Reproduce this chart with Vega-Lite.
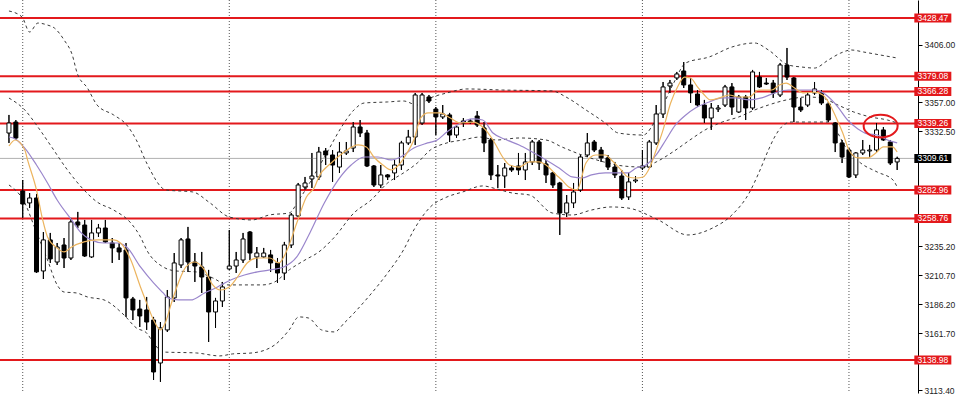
{
"$schema": "https://vega.github.io/schema/vega-lite/v6.json",
"width": 918,
"height": 393,
"autosize": {"type": "none"},
"padding": {"left": 0, "top": 0, "right": 42, "bottom": 2},
"background": "white",
"config": {"view": {"stroke": null}},
"datasets": {
"candles": [
{"i":0,"o":3331.1,"h":3346.4,"l":3322.7,"c":3339.6},
{"i":1,"o":3340.4,"h":3342.1,"l":3325.2,"c":3326.9},
{"i":2,"o":3282.0,"h":3291.3,"l":3259.2,"c":3271.0},
{"i":3,"o":3271.9,"h":3280.3,"l":3267.6,"c":3276.1},
{"i":4,"o":3276.1,"h":3279.5,"l":3212.6,"c":3213.5},
{"i":5,"o":3214.3,"h":3247.3,"l":3207.5,"c":3240.6},
{"i":6,"o":3240.6,"h":3246.5,"l":3221.1,"c":3224.5},
{"i":7,"o":3221.9,"h":3238.0,"l":3219.4,"c":3234.6},
{"i":8,"o":3236.3,"h":3242.2,"l":3216.8,"c":3225.3},
{"i":9,"o":3225.3,"h":3259.2,"l":3223.6,"c":3255.8},
{"i":10,"o":3255.8,"h":3264.3,"l":3250.7,"c":3253.2},
{"i":11,"o":3253.2,"h":3257.5,"l":3226.2,"c":3227.0},
{"i":12,"o":3226.2,"h":3257.5,"l":3225.3,"c":3246.5},
{"i":13,"o":3246.5,"h":3254.1,"l":3243.1,"c":3250.7},
{"i":14,"o":3250.7,"h":3257.5,"l":3238.0,"c":3238.9},
{"i":15,"o":3238.0,"h":3242.2,"l":3221.1,"c":3233.8},
{"i":16,"o":3233.8,"h":3238.0,"l":3223.6,"c":3230.4},
{"i":17,"o":3232.1,"h":3238.0,"l":3175.4,"c":3191.5},
{"i":18,"o":3190.6,"h":3192.3,"l":3172.8,"c":3181.3},
{"i":19,"o":3182.1,"h":3189.8,"l":3166.9,"c":3176.2},
{"i":20,"o":3181.3,"h":3192.3,"l":3164.4,"c":3171.1},
{"i":21,"o":3172.8,"h":3175.4,"l":3122.0,"c":3128.8},
{"i":22,"o":3136.4,"h":3171.1,"l":3120.4,"c":3166.1},
{"i":23,"o":3164.4,"h":3198.2,"l":3162.7,"c":3192.3},
{"i":24,"o":3191.5,"h":3229.5,"l":3188.1,"c":3221.1},
{"i":25,"o":3219.4,"h":3242.2,"l":3216.8,"c":3240.6},
{"i":26,"o":3241.4,"h":3251.6,"l":3213.5,"c":3221.9},
{"i":27,"o":3221.9,"h":3229.5,"l":3205.0,"c":3218.5},
{"i":28,"o":3217.7,"h":3230.4,"l":3195.7,"c":3209.2},
{"i":29,"o":3209.2,"h":3215.2,"l":3154.2,"c":3179.6},
{"i":30,"o":3179.6,"h":3191.5,"l":3166.1,"c":3188.9},
{"i":31,"o":3188.9,"h":3205.0,"l":3183.8,"c":3200.8},
{"i":32,"o":3216.0,"h":3249.0,"l":3215.2,"c":3218.5},
{"i":33,"o":3218.5,"h":3230.4,"l":3212.6,"c":3223.6},
{"i":34,"o":3223.6,"h":3246.5,"l":3221.1,"c":3241.4},
{"i":35,"o":3247.3,"h":3248.1,"l":3223.6,"c":3229.5},
{"i":36,"o":3226.2,"h":3234.6,"l":3216.8,"c":3229.5},
{"i":37,"o":3226.2,"h":3233.8,"l":3225.3,"c":3229.5},
{"i":38,"o":3227.9,"h":3232.1,"l":3213.5,"c":3221.1},
{"i":39,"o":3221.1,"h":3225.3,"l":3204.2,"c":3212.6},
{"i":40,"o":3212.6,"h":3238.9,"l":3206.7,"c":3236.3},
{"i":41,"o":3236.3,"h":3263.4,"l":3233.8,"c":3261.7},
{"i":42,"o":3260.9,"h":3288.8,"l":3260.0,"c":3287.1},
{"i":43,"o":3285.4,"h":3293.9,"l":3282.9,"c":3288.8},
{"i":44,"o":3292.2,"h":3314.2,"l":3284.6,"c":3294.7},
{"i":45,"o":3293.9,"h":3319.3,"l":3291.3,"c":3315.0},
{"i":46,"o":3315.9,"h":3318.4,"l":3304.0,"c":3312.5},
{"i":47,"o":3312.5,"h":3316.7,"l":3289.7,"c":3304.0},
{"i":48,"o":3302.3,"h":3323.5,"l":3297.3,"c":3315.0},
{"i":49,"o":3314.2,"h":3323.5,"l":3312.5,"c":3315.9},
{"i":50,"o":3318.4,"h":3340.4,"l":3315.0,"c":3336.2},
{"i":51,"o":3336.2,"h":3342.1,"l":3327.7,"c":3331.1},
{"i":52,"o":3331.1,"h":3333.7,"l":3302.3,"c":3303.2},
{"i":53,"o":3303.2,"h":3304.0,"l":3285.4,"c":3287.1},
{"i":54,"o":3287.1,"h":3304.0,"l":3284.6,"c":3295.6},
{"i":55,"o":3295.6,"h":3296.4,"l":3291.3,"c":3293.9},
{"i":56,"o":3297.3,"h":3308.3,"l":3291.3,"c":3304.0},
{"i":57,"o":3304.0,"h":3324.4,"l":3299.8,"c":3322.7},
{"i":58,"o":3322.7,"h":3333.7,"l":3321.0,"c":3327.7},
{"i":59,"o":3327.7,"h":3365.0,"l":3321.0,"c":3363.3},
{"i":60,"o":3339.6,"h":3365.0,"l":3337.9,"c":3363.3},
{"i":61,"o":3361.6,"h":3363.3,"l":3356.5,"c":3358.2},
{"i":62,"o":3351.4,"h":3353.1,"l":3329.4,"c":3344.7},
{"i":63,"o":3344.7,"h":3354.8,"l":3343.0,"c":3347.2},
{"i":64,"o":3346.4,"h":3348.1,"l":3323.5,"c":3329.4},
{"i":65,"o":3329.4,"h":3337.9,"l":3326.9,"c":3336.2},
{"i":66,"o":3341.3,"h":3343.8,"l":3336.2,"c":3339.6},
{"i":67,"o":3341.3,"h":3343.0,"l":3338.7,"c":3340.4},
{"i":68,"o":3345.5,"h":3349.7,"l":3336.2,"c":3337.9},
{"i":69,"o":3335.4,"h":3340.4,"l":3315.0,"c":3322.7},
{"i":70,"o":3325.2,"h":3326.9,"l":3291.3,"c":3295.6},
{"i":71,"o":3295.6,"h":3304.0,"l":3284.6,"c":3294.7},
{"i":72,"o":3294.7,"h":3305.7,"l":3284.6,"c":3301.5},
{"i":73,"o":3301.5,"h":3304.0,"l":3298.1,"c":3299.8},
{"i":74,"o":3303.2,"h":3314.2,"l":3295.6,"c":3299.8},
{"i":75,"o":3299.8,"h":3314.2,"l":3291.3,"c":3306.6},
{"i":76,"o":3306.6,"h":3325.2,"l":3304.0,"c":3323.5},
{"i":77,"o":3323.5,"h":3325.2,"l":3299.8,"c":3305.7},
{"i":78,"o":3304.9,"h":3308.3,"l":3288.8,"c":3295.6},
{"i":79,"o":3297.3,"h":3298.1,"l":3284.6,"c":3287.1},
{"i":80,"o":3288.8,"h":3289.7,"l":3244.8,"c":3263.4},
{"i":81,"o":3263.4,"h":3278.6,"l":3260.0,"c":3271.9},
{"i":82,"o":3271.9,"h":3288.8,"l":3267.6,"c":3281.2},
{"i":83,"o":3282.9,"h":3312.5,"l":3281.2,"c":3310.8},
{"i":84,"o":3312.5,"h":3331.1,"l":3310.8,"c":3322.7},
{"i":85,"o":3323.5,"h":3325.2,"l":3315.0,"c":3316.7},
{"i":86,"o":3316.7,"h":3319.3,"l":3306.6,"c":3310.0},
{"i":87,"o":3310.0,"h":3312.5,"l":3299.8,"c":3302.3},
{"i":88,"o":3302.3,"h":3306.6,"l":3293.0,"c":3295.6},
{"i":89,"o":3294.7,"h":3299.8,"l":3274.4,"c":3276.1},
{"i":90,"o":3277.0,"h":3297.3,"l":3274.4,"c":3289.7},
{"i":91,"o":3290.5,"h":3294.7,"l":3288.8,"c":3291.3},
{"i":92,"o":3301.5,"h":3316.7,"l":3299.8,"c":3303.2},
{"i":93,"o":3302.3,"h":3325.2,"l":3301.5,"c":3323.5},
{"i":94,"o":3322.7,"h":3354.8,"l":3321.0,"c":3347.2},
{"i":95,"o":3347.2,"h":3374.3,"l":3343.8,"c":3370.1},
{"i":96,"o":3370.9,"h":3376.0,"l":3365.0,"c":3373.4},
{"i":97,"o":3377.7,"h":3382.8,"l":3376.0,"c":3381.1},
{"i":98,"o":3383.6,"h":3391.2,"l":3369.2,"c":3371.8},
{"i":99,"o":3371.8,"h":3377.7,"l":3356.5,"c":3365.0},
{"i":100,"o":3364.1,"h":3367.5,"l":3353.1,"c":3354.8},
{"i":101,"o":3354.8,"h":3359.1,"l":3339.6,"c":3343.8},
{"i":102,"o":3343.8,"h":3356.5,"l":3333.7,"c":3352.3},
{"i":103,"o":3351.4,"h":3354.8,"l":3348.9,"c":3352.3},
{"i":104,"o":3354.8,"h":3371.8,"l":3353.1,"c":3370.1},
{"i":105,"o":3370.1,"h":3373.4,"l":3346.4,"c":3353.1},
{"i":106,"o":3348.9,"h":3363.3,"l":3348.1,"c":3361.6},
{"i":107,"o":3361.6,"h":3363.3,"l":3342.1,"c":3352.3},
{"i":108,"o":3352.3,"h":3384.5,"l":3350.6,"c":3382.8},
{"i":109,"o":3378.5,"h":3382.8,"l":3369.2,"c":3370.1},
{"i":110,"o":3373.4,"h":3377.7,"l":3371.8,"c":3372.6},
{"i":111,"o":3373.4,"h":3376.0,"l":3360.8,"c":3365.0},
{"i":112,"o":3363.3,"h":3390.4,"l":3361.6,"c":3388.7},
{"i":113,"o":3388.7,"h":3403.1,"l":3376.0,"c":3378.5},
{"i":114,"o":3377.7,"h":3378.5,"l":3340.4,"c":3353.1},
{"i":115,"o":3353.1,"h":3360.8,"l":3348.9,"c":3350.6},
{"i":116,"o":3354.8,"h":3365.8,"l":3353.1,"c":3363.3},
{"i":117,"o":3365.0,"h":3374.3,"l":3363.3,"c":3368.4},
{"i":118,"o":3365.0,"h":3367.5,"l":3354.8,"c":3356.5},
{"i":119,"o":3355.7,"h":3357.4,"l":3340.4,"c":3342.1},
{"i":120,"o":3339.6,"h":3340.4,"l":3315.0,"c":3322.7},
{"i":121,"o":3322.7,"h":3325.2,"l":3305.7,"c":3310.8},
{"i":122,"o":3316.7,"h":3318.4,"l":3293.0,"c":3293.9},
{"i":123,"o":3295.6,"h":3315.0,"l":3293.0,"c":3314.2},
{"i":124,"o":3314.2,"h":3325.2,"l":3312.5,"c":3316.7},
{"i":125,"o":3315.9,"h":3321.0,"l":3310.8,"c":3316.7},
{"i":126,"o":3316.7,"h":3339.6,"l":3315.0,"c":3333.7},
{"i":127,"o":3333.7,"h":3336.2,"l":3324.4,"c":3325.2},
{"i":128,"o":3323.5,"h":3325.2,"l":3304.0,"c":3305.7},
{"i":129,"o":3306.6,"h":3311.0,"l":3299.8,"c":3309.6}
],
"lines": [
{"s":"u","i":0,"p":3434.4},{"s":"u","i":1.9,"p":3429.3},{"s":"u","i":3.0,"p":3416.6},{"s":"u","i":4.2,"p":3424.2},{"s":"u","i":5.6,"p":3422.5},{"s":"u","i":6.6,"p":3420.0},{"s":"u","i":8.0,"p":3409.9},{"s":"u","i":9.2,"p":3397.1},{"s":"u","i":9.9,"p":3381.9},{"s":"u","i":11.4,"p":3369.2},{"s":"u","i":12.8,"p":3354.8},{"s":"u","i":15.2,"p":3346.4},{"s":"u","i":17.1,"p":3337.9},{"s":"u","i":18.5,"p":3325.2},{"s":"u","i":20.0,"p":3305.7},{"s":"u","i":22.8,"p":3282.9},{"s":"u","i":26.7,"p":3281.2},{"s":"u","i":29.2,"p":3271.9},{"s":"u","i":32.0,"p":3260.0},{"s":"u","i":35.3,"p":3257.5},{"s":"u","i":37.8,"p":3261.7},{"s":"u","i":40.7,"p":3263.4},{"s":"u","i":42.1,"p":3274.4},{"s":"u","i":43.5,"p":3287.1},{"s":"u","i":45.0,"p":3302.3},{"s":"u","i":46.4,"p":3316.7},{"s":"u","i":48.3,"p":3336.2},{"s":"u","i":50.1,"p":3350.6},{"s":"u","i":51.6,"p":3356.5},{"s":"u","i":55.0,"p":3357.4},{"s":"u","i":57.3,"p":3358.2},{"s":"u","i":59.3,"p":3354.8},{"s":"u","i":61.2,"p":3360.8},{"s":"u","i":63.6,"p":3365.0},{"s":"u","i":66.5,"p":3368.4},{"s":"u","i":71.7,"p":3367.5},{"s":"u","i":78.9,"p":3366.7},{"s":"u","i":80.9,"p":3361.6},{"s":"u","i":83.8,"p":3350.6},{"s":"u","i":86.6,"p":3339.6},{"s":"u","i":88.5,"p":3331.1},{"s":"u","i":92.1,"p":3329.4},{"s":"u","i":94.3,"p":3346.4},{"s":"u","i":96.4,"p":3371.8},{"s":"u","i":98.3,"p":3390.4},{"s":"u","i":101.7,"p":3395.5},{"s":"u","i":105.0,"p":3403.9},{"s":"u","i":108.3,"p":3407.3},{"s":"u","i":110.3,"p":3401.4},{"s":"u","i":113.2,"p":3388.7},{"s":"u","i":115.1,"p":3387.0},{"s":"u","i":117.0,"p":3386.1},{"s":"u","i":119.0,"p":3392.9},{"s":"u","i":120.8,"p":3398.8},{"s":"u","i":122.3,"p":3401.4},{"s":"u","i":124.1,"p":3399.7},{"s":"u","i":126.6,"p":3397.1},{"s":"u","i":129.0,"p":3394.6},
{"s":"m","i":0,"p":3360.7},{"s":"m","i":2.3,"p":3350.6},{"s":"m","i":4.2,"p":3336.2},{"s":"m","i":6.2,"p":3319.3},{"s":"m","i":8.5,"p":3299.8},{"s":"m","i":10.5,"p":3285.4},{"s":"m","i":12.8,"p":3272.7},{"s":"m","i":15.2,"p":3265.9},{"s":"m","i":17.7,"p":3254.9},{"s":"m","i":19.1,"p":3243.1},{"s":"m","i":20.0,"p":3232.1},{"s":"m","i":22.4,"p":3217.7},{"s":"m","i":24.3,"p":3214.3},{"s":"m","i":27.2,"p":3213.5},{"s":"m","i":29.6,"p":3208.4},{"s":"m","i":31.8,"p":3202.5},{"s":"m","i":33.9,"p":3202.5},{"s":"m","i":36.8,"p":3202.5},{"s":"m","i":38.6,"p":3205.0},{"s":"m","i":40.7,"p":3215.2},{"s":"m","i":43.0,"p":3223.6},{"s":"m","i":45.0,"p":3230.4},{"s":"m","i":47.3,"p":3243.1},{"s":"m","i":50.1,"p":3263.4},{"s":"m","i":52.6,"p":3274.4},{"s":"m","i":55.0,"p":3288.8},{"s":"m","i":57.3,"p":3297.3},{"s":"m","i":59.3,"p":3305.7},{"s":"m","i":61.2,"p":3316.7},{"s":"m","i":63.6,"p":3322.7},{"s":"m","i":65.9,"p":3325.2},{"s":"m","i":68.4,"p":3327.7},{"s":"m","i":70.8,"p":3325.2},{"s":"m","i":74.1,"p":3326.9},{"s":"m","i":78.0,"p":3325.2},{"s":"m","i":80.3,"p":3319.3},{"s":"m","i":83.2,"p":3312.5},{"s":"m","i":86.4,"p":3306.6},{"s":"m","i":89.2,"p":3303.2},{"s":"m","i":92.1,"p":3302.3},{"s":"m","i":94.0,"p":3306.6},{"s":"m","i":96.4,"p":3315.0},{"s":"m","i":98.9,"p":3325.2},{"s":"m","i":101.1,"p":3333.7},{"s":"m","i":103.6,"p":3340.4},{"s":"m","i":106.0,"p":3344.7},{"s":"m","i":108.3,"p":3350.6},{"s":"m","i":110.3,"p":3354.8},{"s":"m","i":112.9,"p":3359.1},{"s":"m","i":115.8,"p":3361.6},{"s":"m","i":118.0,"p":3360.8},{"s":"m","i":120.4,"p":3354.8},{"s":"m","i":122.7,"p":3348.9},{"s":"m","i":125.1,"p":3344.7},{"s":"m","i":127.6,"p":3342.1},{"s":"m","i":129.0,"p":3339.6},
{"s":"d","i":0,"p":3287.1},{"s":"d","i":2.3,"p":3271.9},{"s":"d","i":3.7,"p":3251.6},{"s":"d","i":5.6,"p":3223.6},{"s":"d","i":7.0,"p":3202.5},{"s":"d","i":8.0,"p":3196.5},{"s":"d","i":9.8,"p":3195.7},{"s":"d","i":11.4,"p":3192.3},{"s":"d","i":13.8,"p":3189.8},{"s":"d","i":16.7,"p":3177.1},{"s":"d","i":18.5,"p":3166.1},{"s":"d","i":20.0,"p":3161.8},{"s":"d","i":21.0,"p":3153.4},{"s":"d","i":22.4,"p":3145.7},{"s":"d","i":27.2,"p":3144.9},{"s":"d","i":30.6,"p":3142.4},{"s":"d","i":32.5,"p":3144.1},{"s":"d","i":35.3,"p":3144.9},{"s":"d","i":38.6,"p":3151.7},{"s":"d","i":40.7,"p":3164.4},{"s":"d","i":42.1,"p":3175.4},{"s":"d","i":43.5,"p":3174.5},{"s":"d","i":45.4,"p":3164.4},{"s":"d","i":47.3,"p":3162.7},{"s":"d","i":48.7,"p":3170.3},{"s":"d","i":52.2,"p":3192.3},{"s":"d","i":55.0,"p":3212.6},{"s":"d","i":57.3,"p":3232.1},{"s":"d","i":58.8,"p":3249.0},{"s":"d","i":61.2,"p":3268.5},{"s":"d","i":63.6,"p":3276.9},{"s":"d","i":65.9,"p":3281.2},{"s":"d","i":68.8,"p":3286.3},{"s":"d","i":70.8,"p":3283.8},{"s":"d","i":73.1,"p":3280.3},{"s":"d","i":75.6,"p":3278.6},{"s":"d","i":78.9,"p":3263.4},{"s":"d","i":81.8,"p":3261.7},{"s":"d","i":84.6,"p":3265.9},{"s":"d","i":87.5,"p":3268.5},{"s":"d","i":89.9,"p":3267.6},{"s":"d","i":94.3,"p":3257.5},{"s":"d","i":98.6,"p":3244.8},{"s":"d","i":102.2,"p":3250.7},{"s":"d","i":105.0,"p":3261.7},{"s":"d","i":107.5,"p":3280.3},{"s":"d","i":108.9,"p":3297.3},{"s":"d","i":110.3,"p":3316.7},{"s":"d","i":111.2,"p":3327.7},{"s":"d","i":112.2,"p":3336.2},{"s":"d","i":113.6,"p":3340.4},{"s":"d","i":116.1,"p":3340.4},{"s":"d","i":119.0,"p":3340.4},{"s":"d","i":121.8,"p":3316.7},{"s":"d","i":123.7,"p":3305.7},{"s":"d","i":126.1,"p":3298.1},{"s":"d","i":128.4,"p":3291.3},{"s":"d","i":129.0,"p":3285.4},
{"s":"f","i":0,"p":3320.1},{"s":"f","i":0.9,"p":3325.2},{"s":"f","i":2.3,"p":3316.7},{"s":"f","i":2.7,"p":3308.3},{"s":"f","i":4.0,"p":3282.9},{"s":"f","i":4.9,"p":3257.5},{"s":"f","i":5.6,"p":3243.1},{"s":"f","i":7.0,"p":3233.8},{"s":"f","i":8.0,"p":3230.4},{"s":"f","i":9.1,"p":3234.6},{"s":"f","i":10.9,"p":3238.9},{"s":"f","i":12.8,"p":3240.6},{"s":"f","i":15.2,"p":3240.6},{"s":"f","i":16.2,"p":3238.0},{"s":"f","i":17.7,"p":3223.6},{"s":"f","i":19.1,"p":3200.8},{"s":"f","i":20.0,"p":3187.2},{"s":"f","i":21.0,"p":3172.8},{"s":"f","i":22.0,"p":3164.4},{"s":"f","i":22.7,"p":3170.3},{"s":"f","i":23.6,"p":3187.2},{"s":"f","i":24.6,"p":3204.2},{"s":"f","i":25.7,"p":3217.7},{"s":"f","i":27.0,"p":3221.9},{"s":"f","i":28.4,"p":3215.2},{"s":"f","i":29.6,"p":3202.5},{"s":"f","i":30.7,"p":3198.2},{"s":"f","i":32.0,"p":3200.8},{"s":"f","i":33.2,"p":3209.2},{"s":"f","i":34.6,"p":3221.1},{"s":"f","i":36.1,"p":3225.3},{"s":"f","i":37.9,"p":3225.3},{"s":"f","i":39.2,"p":3221.1},{"s":"f","i":40.4,"p":3232.1},{"s":"f","i":41.8,"p":3254.9},{"s":"f","i":43.2,"p":3276.9},{"s":"f","i":44.4,"p":3285.4},{"s":"f","i":45.0,"p":3293.9},{"s":"f","i":46.8,"p":3305.7},{"s":"f","i":48.7,"p":3315.0},{"s":"f","i":50.7,"p":3321.0},{"s":"f","i":51.9,"p":3319.3},{"s":"f","i":53.0,"p":3310.8},{"s":"f","i":54.3,"p":3304.0},{"s":"f","i":55.5,"p":3299.8},{"s":"f","i":56.6,"p":3304.0},{"s":"f","i":57.9,"p":3315.0},{"s":"f","i":58.8,"p":3325.2},{"s":"f","i":59.8,"p":3343.8},{"s":"f","i":60.9,"p":3348.1},{"s":"f","i":62.6,"p":3348.1},{"s":"f","i":64.1,"p":3343.8},{"s":"f","i":65.5,"p":3339.6},{"s":"f","i":67.4,"p":3340.4},{"s":"f","i":68.8,"p":3336.2},{"s":"f","i":70.3,"p":3325.2},{"s":"f","i":71.7,"p":3310.8},{"s":"f","i":72.7,"p":3304.0},{"s":"f","i":74.1,"p":3302.3},{"s":"f","i":75.6,"p":3306.6},{"s":"f","i":77.0,"p":3306.6},{"s":"f","i":78.0,"p":3304.0},{"s":"f","i":79.5,"p":3295.6},{"s":"f","i":80.3,"p":3291.3},{"s":"f","i":81.3,"p":3285.4},{"s":"f","i":82.5,"p":3282.9},{"s":"f","i":83.8,"p":3305.7},{"s":"f","i":85.2,"p":3312.5},{"s":"f","i":86.6,"p":3312.5},{"s":"f","i":87.5,"p":3308.3},{"s":"f","i":88.9,"p":3299.8},{"s":"f","i":89.9,"p":3293.9},{"s":"f","i":91.1,"p":3293.0},{"s":"f","i":92.1,"p":3293.9},{"s":"f","i":93.1,"p":3302.3},{"s":"f","i":94.0,"p":3316.7},{"s":"f","i":95.0,"p":3333.7},{"s":"f","i":96.1,"p":3356.5},{"s":"f","i":97.1,"p":3370.1},{"s":"f","i":98.1,"p":3378.5},{"s":"f","i":99.0,"p":3377.7},{"s":"f","i":100.0,"p":3370.1},{"s":"f","i":101.0,"p":3363.3},{"s":"f","i":101.9,"p":3359.1},{"s":"f","i":103.2,"p":3360.8},{"s":"f","i":104.6,"p":3363.3},{"s":"f","i":106.0,"p":3361.6},{"s":"f","i":107.5,"p":3361.6},{"s":"f","i":108.9,"p":3367.5},{"s":"f","i":110.8,"p":3367.5},{"s":"f","i":111.9,"p":3371.8},{"s":"f","i":112.9,"p":3373.4},{"s":"f","i":114.1,"p":3369.2},{"s":"f","i":115.5,"p":3365.0},{"s":"f","i":117.0,"p":3365.8},{"s":"f","i":118.2,"p":3363.3},{"s":"f","i":119.1,"p":3356.5},{"s":"f","i":120.1,"p":3344.7},{"s":"f","i":121.1,"p":3331.1},{"s":"f","i":122.0,"p":3316.7},{"s":"f","i":123.3,"p":3310.0},{"s":"f","i":124.7,"p":3310.0},{"s":"f","i":125.9,"p":3314.2},{"s":"f","i":127.0,"p":3319.3},{"s":"f","i":128.3,"p":3319.3},{"s":"f","i":129.0,"p":3315.0},
{"s":"w","i":0,"p":3327.7},{"s":"w","i":0.9,"p":3326.1},{"s":"w","i":2.3,"p":3318.4},{"s":"w","i":4.0,"p":3304.0},{"s":"w","i":5.6,"p":3288.8},{"s":"w","i":7.0,"p":3274.4},{"s":"w","i":9.1,"p":3257.5},{"s":"w","i":10.5,"p":3246.5},{"s":"w","i":11.9,"p":3240.6},{"s":"w","i":13.8,"p":3238.0},{"s":"w","i":15.7,"p":3238.0},{"s":"w","i":17.1,"p":3234.6},{"s":"w","i":19.1,"p":3217.7},{"s":"w","i":21.0,"p":3204.2},{"s":"w","i":22.4,"p":3195.7},{"s":"w","i":23.1,"p":3191.5},{"s":"w","i":24.6,"p":3189.8},{"s":"w","i":26.4,"p":3189.8},{"s":"w","i":28.4,"p":3195.7},{"s":"w","i":30.3,"p":3200.8},{"s":"w","i":32.2,"p":3206.7},{"s":"w","i":34.2,"p":3210.9},{"s":"w","i":36.1,"p":3213.5},{"s":"w","i":37.9,"p":3215.2},{"s":"w","i":39.9,"p":3217.7},{"s":"w","i":41.8,"p":3226.2},{"s":"w","i":43.7,"p":3246.5},{"s":"w","i":45.8,"p":3271.9},{"s":"w","i":47.8,"p":3291.3},{"s":"w","i":49.7,"p":3304.0},{"s":"w","i":51.6,"p":3310.8},{"s":"w","i":53.6,"p":3310.8},{"s":"w","i":55.5,"p":3308.3},{"s":"w","i":56.9,"p":3310.8},{"s":"w","i":58.8,"p":3318.4},{"s":"w","i":60.8,"p":3322.7},{"s":"w","i":62.2,"p":3325.2},{"s":"w","i":63.6,"p":3332.0},{"s":"w","i":65.1,"p":3337.9},{"s":"w","i":66.5,"p":3342.1},{"s":"w","i":67.4,"p":3343.0},{"s":"w","i":68.8,"p":3342.1},{"s":"w","i":70.3,"p":3331.1},{"s":"w","i":72.3,"p":3325.2},{"s":"w","i":74.1,"p":3321.0},{"s":"w","i":76.0,"p":3315.0},{"s":"w","i":78.0,"p":3308.3},{"s":"w","i":79.9,"p":3301.5},{"s":"w","i":81.8,"p":3293.9},{"s":"w","i":83.2,"p":3293.0},{"s":"w","i":84.6,"p":3295.6},{"s":"w","i":86.6,"p":3297.3},{"s":"w","i":88.5,"p":3297.3},{"s":"w","i":89.9,"p":3297.3},{"s":"w","i":91.1,"p":3301.5},{"s":"w","i":92.5,"p":3304.0},{"s":"w","i":94.0,"p":3312.5},{"s":"w","i":95.4,"p":3325.2},{"s":"w","i":96.8,"p":3337.9},{"s":"w","i":98.3,"p":3346.4},{"s":"w","i":99.7,"p":3352.3},{"s":"w","i":101.7,"p":3357.4},{"s":"w","i":103.6,"p":3360.8},{"s":"w","i":105.5,"p":3360.8},{"s":"w","i":107.5,"p":3359.1},{"s":"w","i":109.3,"p":3360.8},{"s":"w","i":111.2,"p":3365.0},{"s":"w","i":113.2,"p":3367.5},{"s":"w","i":115.1,"p":3367.5},{"s":"w","i":117.0,"p":3367.5},{"s":"w","i":118.7,"p":3363.3},{"s":"w","i":120.4,"p":3353.1},{"s":"w","i":121.8,"p":3342.1},{"s":"w","i":123.3,"p":3334.6},{"s":"w","i":124.7,"p":3330.4},{"s":"w","i":126.1,"p":3329.4},{"s":"w","i":127.6,"p":3325.2},{"s":"w","i":129.0,"p":3322.7}
],
"levels": [{"p":3428.47},{"p":3379.08},{"p":3366.28},{"p":3339.26},{"p":3282.96},{"p":3258.76},{"p":3138.98}],
"last": [{"p":3309.61}],
"grid": [{"i":2},{"i":32},{"i":62},{"i":92},{"i":122}],
"mark": [{"i":126.6,"p":3337.0}]
},
"layer": [
{
"data": {"name": "grid"},
"mark": {"type": "rule", "color": "#555555", "strokeWidth": 1, "strokeDash": [1, 2]},
"encoding": {
"x": {"field": "i", "type": "quantitative", "scale": {"domain": [-0.575, 131.3], "nice": false, "zero": false}, "axis": null}
}
},
{
"data": {"name": "candles"},
"mark": {"type": "rule", "color": "#000000", "strokeWidth": 1},
"encoding": {
"x": {"field": "i", "type": "quantitative", "scale": {"domain": [-0.575, 131.3], "nice": false, "zero": false}, "axis": null},
"y": {"field": "l", "type": "quantitative", "scale": {"domain": [3111.0, 3443.71], "nice": false, "zero": false},
 "axis": {"orient": "right", "title": null, "grid": false, "values": [3406, 3357, 3332.5, 3235.2, 3210.7, 3186.2, 3161.7, 3113.4], "format": ".2f", "domainColor": "#000000", "tickColor": "#000000", "tickSize": 4, "labelFont": "Liberation Sans", "labelFontSize": 8.5, "labelColor": "#222222", "labelPadding": 2, "labelFlush": false, "labelOverlap": false, "labelBound": false}},
"y2": {"field": "h"}
}
},
{
"data": {"name": "last"},
"mark": {"type": "rule", "color": "#b0b0b0", "strokeWidth": 1},
"encoding": {
"y": {"field": "p", "type": "quantitative"}
}
},
{
"data": {"name": "levels"},
"mark": {"type": "rule", "color": "#e3191c", "strokeWidth": 2},
"encoding": {
"y": {"field": "p", "type": "quantitative"}
}
},
{
"data": {"name": "lines"},
"transform": [{"filter": "datum.s == 'u' || datum.s == 'm' || datum.s == 'd'"}],
"mark": {"type": "line", "color": "#3a3a3a", "strokeWidth": 1, "strokeDash": [3, 3], "interpolate": "monotone"},
"encoding": {
"x": {"field": "i", "type": "quantitative"},
"y": {"field": "p", "type": "quantitative"},
"detail": {"field": "s"},
"order": {"field": "i", "type": "quantitative"}
}
},
{
"data": {"name": "candles"},
"mark": {"type": "rule", "color": "#000000", "strokeWidth": 1},
"encoding": {
"x": {"field": "i", "type": "quantitative"},
"y": {"field": "l", "type": "quantitative"},
"y2": {"field": "h"}
}
},
{
"data": {"name": "candles"},
"mark": {"type": "bar", "size": 4, "stroke": "#000000", "strokeWidth": 1},
"encoding": {
"x": {"field": "i", "type": "quantitative"},
"y": {"field": "o", "type": "quantitative"},
"y2": {"field": "c"},
"fill": {"condition": {"test": "datum.c >= datum.o", "value": "#ffffff"}, "value": "#000000"}
}
},
{
"data": {"name": "lines"},
"transform": [{"filter": "datum.s == 'w'"}],
"mark": {"type": "line", "color": "#9a86cc", "strokeWidth": 1.2, "interpolate": "monotone"},
"encoding": {
"x": {"field": "i", "type": "quantitative"},
"y": {"field": "p", "type": "quantitative"},
"order": {"field": "i", "type": "quantitative"}
}
},
{
"data": {"name": "lines"},
"transform": [{"filter": "datum.s == 'f'"}],
"mark": {"type": "line", "color": "#ecb45e", "strokeWidth": 1.2, "interpolate": "monotone"},
"encoding": {
"x": {"field": "i", "type": "quantitative"},
"y": {"field": "p", "type": "quantitative"},
"order": {"field": "i", "type": "quantitative"}
}
},
{
"data": {"name": "mark"},
"mark": {"type": "point", "shape": "M -1.5 0 A 1.5 1 0 1 0 1.5 0 A 1.5 1 0 1 0 -1.5 0 Z", "size": 514, "filled": false, "stroke": "#e3191c", "strokeWidth": 2, "opacity": 1},
"encoding": {
"x": {"field": "i", "type": "quantitative"},
"y": {"field": "p", "type": "quantitative"}
}
},
{
"data": {"name": "levels"},
"mark": {"type": "tick", "orient": "horizontal", "size": 37, "thickness": 9, "color": "#e3191c", "opacity": 1},
"encoding": {
"x": {"datum": 134.18, "type": "quantitative"},
"y": {"field": "p", "type": "quantitative"}
}
},
{
"data": {"name": "last"},
"mark": {"type": "tick", "orient": "horizontal", "size": 37, "thickness": 9, "color": "#000000", "opacity": 1},
"encoding": {
"x": {"datum": 134.18, "type": "quantitative"},
"y": {"field": "p", "type": "quantitative"}
}
},
{
"data": {"name": "levels"},
"mark": {"type": "text", "font": "Liberation Sans", "fontSize": 8.5, "color": "#ffffff", "align": "center", "baseline": "middle"},
"encoding": {
"x": {"datum": 134.18, "type": "quantitative"},
"y": {"field": "p", "type": "quantitative"},
"text": {"field": "p", "type": "quantitative", "format": ".2f"}
}
},
{
"data": {"name": "last"},
"mark": {"type": "text", "font": "Liberation Sans", "fontSize": 8.5, "color": "#ffffff", "align": "center", "baseline": "middle"},
"encoding": {
"x": {"datum": 134.18, "type": "quantitative"},
"y": {"field": "p", "type": "quantitative"},
"text": {"field": "p", "type": "quantitative", "format": ".2f"}
}
}
]
}
